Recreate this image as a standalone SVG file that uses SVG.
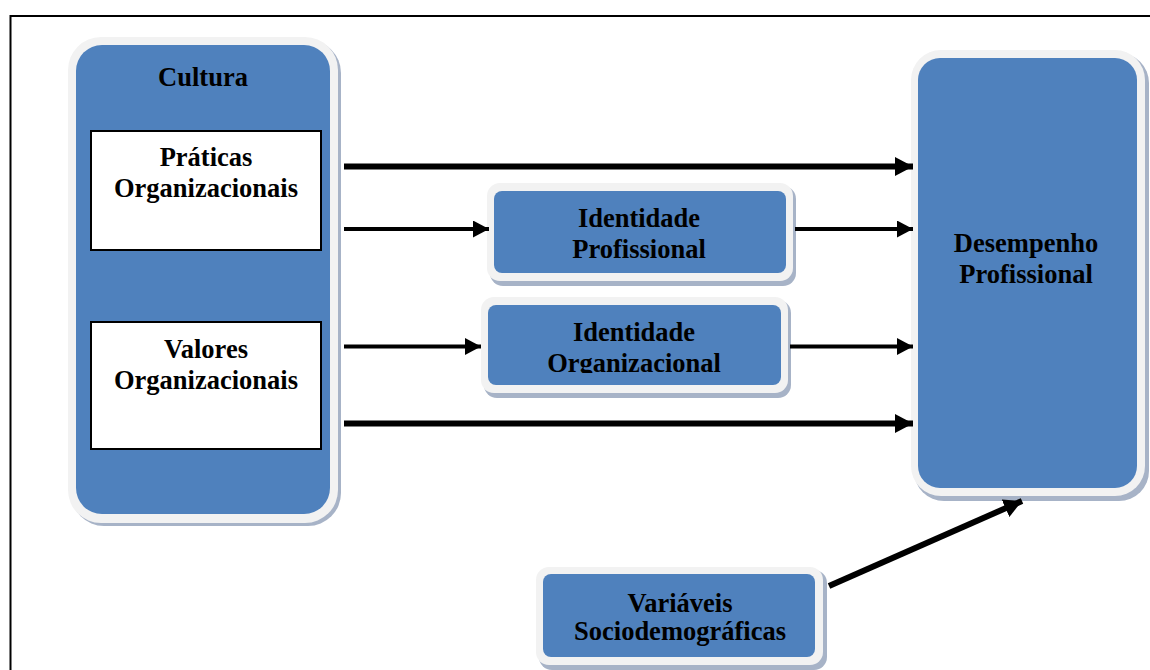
<svg xmlns="http://www.w3.org/2000/svg" width="1150" height="670" viewBox="0 0 1150 670">
  <defs>
    <style>
      .shadow { fill: #a7b3c7; }
      .rim { fill: #f2f2f2; }
      .blue { fill: #4f81bd; }
      .white { fill: #ffffff; stroke: #000000; stroke-width: 2; }
      .label { font-family: "Liberation Serif", "Times New Roman", serif; font-weight: bold; font-size: 26.5px; fill: #000000; text-anchor: middle; }
      .thin { stroke: #000000; stroke-width: 4; fill: none; }
      .thick { stroke: #000000; stroke-width: 6; fill: none; }
    </style>
    <marker id="head" markerWidth="18" markerHeight="19" refX="18" refY="9.5" orient="auto" markerUnits="userSpaceOnUse">
      <path d="M0,0 L18,9.5 L0,19 Z" fill="#000000"/>
    </marker>
    <marker id="headSmall" markerWidth="16" markerHeight="17" refX="16" refY="8.5" orient="auto" markerUnits="userSpaceOnUse">
      <path d="M0,0 L16,8.5 L0,17 Z" fill="#000000"/>
    </marker>
    <clipPath id="clipOrg">
      <rect x="488" y="305" width="293" height="68"/>
    </clipPath>
  </defs>

  <rect width="1150" height="670" fill="#ffffff"/>
  <!-- outer frame -->
  <rect x="10.5" y="16" width="1160" height="680" fill="none" stroke="#000000" stroke-width="2"/>

  <!-- Cultura -->
  <g id="cultura">
    <rect class="shadow" x="71" y="40" width="270" height="486" rx="33"/>
    <rect class="rim" x="68" y="37" width="270" height="486" rx="33"/>
    <rect class="blue" x="76" y="45" width="254" height="469" rx="26"/>
    <text class="label" x="203" y="86">Cultura</text>
  </g>

  <g id="praticas">
    <rect class="white" x="91" y="131" width="230" height="119"/>
    <text class="label" x="206" y="166">Práticas</text>
    <text class="label" x="206" y="197">Organizacionais</text>
  </g>

  <g id="valores">
    <rect class="white" x="91" y="322" width="230" height="127"/>
    <text class="label" x="206" y="358">Valores</text>
    <text class="label" x="206" y="389">Organizacionais</text>
  </g>

  <!-- Identidade Profissional -->
  <g id="identidade-profissional">
    <rect class="shadow" x="490" y="186" width="306" height="100" rx="13"/>
    <rect class="rim" x="487" y="183" width="306" height="98" rx="13"/>
    <rect class="blue" x="494" y="191" width="292" height="82" rx="8"/>
    <text class="label" x="639" y="227">Identidade</text>
    <text class="label" x="639" y="258">Profissional</text>
  </g>

  <!-- Identidade Organizacional -->
  <g id="identidade-organizacional">
    <rect class="shadow" x="484" y="300" width="307" height="98" rx="13"/>
    <rect class="rim" x="481" y="297" width="307" height="96" rx="13"/>
    <rect class="blue" x="488" y="305" width="293" height="80" rx="8"/>
    <g clip-path="url(#clipOrg)">
      <text class="label" x="634" y="341">Identidade</text>
      <text class="label" x="634" y="372">Organizacional</text>
    </g>
  </g>

  <!-- Desempenho Profissional -->
  <g id="desempenho">
    <rect class="shadow" x="914" y="53" width="235" height="448" rx="30"/>
    <rect class="rim" x="911" y="50" width="234" height="446" rx="30"/>
    <rect class="blue" x="918" y="58" width="219" height="430" rx="22"/>
    <text class="label" x="1026" y="252">Desempenho</text>
    <text class="label" x="1026" y="283">Profissional</text>
  </g>

  <!-- Variaveis Sociodemograficas -->
  <g id="variaveis">
    <rect class="shadow" x="539" y="570" width="288" height="100" rx="13"/>
    <rect class="rim" x="536" y="567" width="287" height="98" rx="13"/>
    <rect class="blue" x="543" y="574" width="272" height="83" rx="8"/>
    <text class="label" x="680" y="612">Variáveis</text>
    <text class="label" x="680" y="640">Sociodemográficas</text>
  </g>

  <!-- connectors -->
  <g id="connectors">
    <line class="thick" x1="344" y1="166.5" x2="913" y2="166.5" marker-end="url(#head)"/>
    <line class="thin" x1="344" y1="229" x2="489" y2="229" marker-end="url(#headSmall)"/>
    <line class="thin" x1="795" y1="229" x2="913" y2="229" marker-end="url(#headSmall)"/>
    <line class="thin" x1="344" y1="346.5" x2="481" y2="346.5" marker-end="url(#headSmall)"/>
    <line class="thin" x1="790" y1="346.5" x2="913" y2="346.5" marker-end="url(#headSmall)"/>
    <line class="thick" x1="344" y1="423.5" x2="913" y2="423.5" marker-end="url(#head)"/>
    <line class="thick" x1="829" y1="586" x2="1022" y2="501" marker-end="url(#head)"/>
  </g>
</svg>
